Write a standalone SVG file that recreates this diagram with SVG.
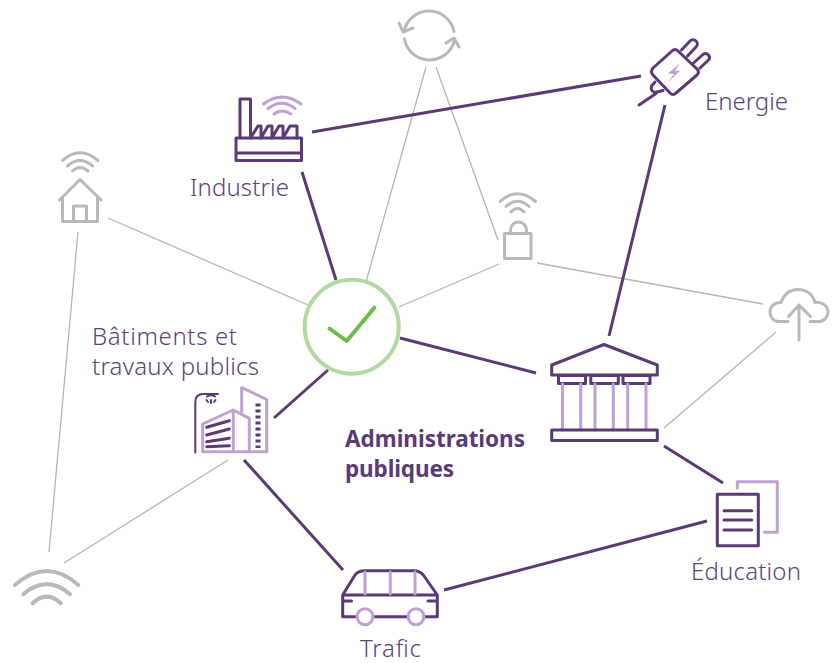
<svg xmlns="http://www.w3.org/2000/svg" width="838" height="663" viewBox="0 0 838 663">
<style>
.d{fill:none;stroke:#5b3a75;stroke-width:3;stroke-linecap:round;stroke-linejoin:round}
.t{stroke-width:2}
.l{fill:none;stroke:#bda2d2;stroke-width:3;stroke-linecap:round;stroke-linejoin:round}
.g{fill:none;stroke:#b9b9b9;stroke-width:3;stroke-linecap:round;stroke-linejoin:round}
.cd{stroke:#5b3a75;stroke-width:3;fill:none}
.cg{stroke:#b5b5b5;stroke-width:1.3;fill:none}
text{font-family:"Noto Sans","Open Sans",sans-serif;font-weight:300;font-size:24px;fill:#5f4279}
.b{font-weight:700;font-size:22.500px;fill:#5b3a75}
</style>
<rect width="838" height="663" fill="#fff"/>
<g id="connectors">
<path class="cg" d="M426 67L366 282M436 67L498 240M108 218L308 305M399 307L499 264M537 263L763 304M776 332L664 428M78 232L49 552M228 460L64 563"/>
<path class="cd" d="M312 132L641 76M302 172L336 280M665 105L609 336M400 338L536 373M328 370L274 418M244 460L343 570M664 446L723 483M444 590L707 521"/>
</g>
<g id="sync">
<path class="g" d="M404 31.500A25.500 25.500 0 0 1 454 31.500"/>
<path class="g" d="M404.500 39A25.500 25.500 0 0 0 454.500 40"/>
<path class="g" d="M399 23L403 32L413 28M446 43L454 38L459 47"/>
</g>
<g id="plug">
<path class="d" d="M672 51Q675 48 678 51L697 69Q700 72 697 75L676 93Q673 96 670 93L653 75Q650 72 653 68Z"/>
<path class="d" d="M681.500 50L690 41A4 4 0 0 1 696 47L687.500 56M693.500 63L703 54.500A4 4 0 0 1 709 59.500L700 68"/>
<path class="d" d="M655 82L651.500 86Q650 91 655 92.500L663 90.500M656 93.500L639 105"/>
<path fill="#bda2d2" d="M680 63L668 73.500L674 74L668 82L680 71L675 70.500Z"/>
</g>
<g id="industrie">
<path class="d" d="M240 138V99H250.500V138M236 138H301.500V160.500H236ZM236 153H301.500"/>
<path class="d" d="M250.500 138L258 126H261V138L268 126H272V138L279 126H283V138L290 126H297V138"/>
<path class="l" d="M263.500 104Q282 90 301 104M268 108.500Q282 98 295 108.500M274 114Q282 108 291 114"/>
<text x="190" y="196" textLength="99">Industrie</text>
</g>
<g id="energie"><text x="705" y="110" textLength="83">Energie</text></g>
<g id="maison">
<path class="g" d="M59.500 200L80 179.500L101 200M62.500 197V221.500H97.500V197M73.500 221.500V206H86.500V221.500"/>
<path class="g" d="M62.500 160.500Q80 145 98 160.500M67.500 166Q80 155 92.500 166M72.500 171Q80 164 88 171"/>
</g>
<g id="cadenas">
<rect class="g" x="504.500" y="233.500" width="26.500" height="25"/>
<path class="g" d="M510.500 233V230A8 8 0 0 1 526.500 230V233"/>
<path class="g" d="M500 201.500Q517.500 186 535.500 201.500M506 206.500Q517.500 196 529 206.500M511 212Q517.500 205 524 212"/>
</g>
<g id="nuage">
<path class="g" d="M788 321.500H779C773 321.500 770 317 770 312C770 306 775 302 781 302.500C784 294 790 289.500 798 289.500C807 289.500 813 295 815 302.500C822 301.500 828 306 828 312C828 317 824 321.500 819 321.500H810"/>
<path class="g" d="M799 340V305M788.500 316.500L799 305L810.500 316.500"/>
</g>
<g id="validation">
<circle cx="351.700" cy="326.700" r="47" fill="#fff" stroke="#b3d9a3" stroke-width="4"/>
<path d="M329.500 328.500L346.700 341L374.300 307.700" fill="none" stroke="#6abf4b" stroke-width="4" stroke-linecap="round" stroke-linejoin="round"/>
</g>
<g id="administrations">
<path class="d" d="M551.700 375V365L604 344.500L657.300 365V375Z"/>
<path class="d" d="M558.500 375.500H585.500V383.500H558.500ZM590.800 375.500H618.300V383.500H590.800ZM623 375.500H650V383.500H623Z"/>
<path class="l" d="M562.500 384V430M580.700 384V430M595 384V430M613.300 384V430M627.700 384V430M646 384V430"/>
<rect class="d" x="551.700" y="430" width="105.600" height="10.500"/>
<text class="b" x="345" y="447" textLength="180">Administrations</text>
<text class="b" x="345" y="477" textLength="109">publiques</text>
</g>
<g id="batiments">
<text x="92" y="345" textLength="145">Bâtiments et</text>
<text x="92" y="375" textLength="167">travaux publics</text>
<path class="d t" d="M195.300 452.500V402Q195.300 394 203.500 394H218M207 396.500Q211 394 215 396.500M211 400V403M206.500 400L208 402M215.500 400L214 402"/>
<path class="l" d="M241.700 411.500V387.500L266.700 399.500V451.700H202.700V424L233.300 410L249.300 418.300V451.700M233.300 410V451.700"/>
<path class="d" d="M206.700 427.300L229.300 420.700M206.700 435L229.300 429M206.700 441.700L229.300 438.300M206.700 446.700L229.300 445.700"/>
<path d="M258 403.500V448" stroke="#5b3a75" stroke-width="5" stroke-dasharray="3 3" fill="none"/>
</g>
<g id="trafic">
<path class="d" d="M342.700 616.700V595L355 575Q358 570.700 365 570.700H413.300Q420 570.700 423.300 575L437.300 595V616.700H424M408 616.700H373M357 616.700H342.700M342.700 595H437.300M342.700 601H351.500M428 601H437.300"/>
<path class="l" d="M365 572V594M390.300 572V594M415 572V594"/>
<circle class="l" cx="365" cy="616.700" r="8"/>
<circle class="l" cx="416" cy="616.700" r="8"/>
<text x="360" y="657" textLength="61">Trafic</text>
</g>
<g id="education">
<path class="l" d="M737.300 488V481.700H777.300V532.300H764.500"/>
<rect class="d" x="717.300" y="494.300" width="41" height="51.400"/>
<path class="d" d="M724 510.700H751.700M724 520H751.700M724 530H751.700"/>
<text x="691" y="580" textLength="110">Éducation</text>
</g>
<g id="wifi">
<path class="g" style="stroke-width:4" d="M15 585Q46.700 557 78.300 585M23.300 594.300Q46.700 574 70 594.300M32.700 603.300Q46.700 590 60.700 603.300"/>
</g>
</svg>
